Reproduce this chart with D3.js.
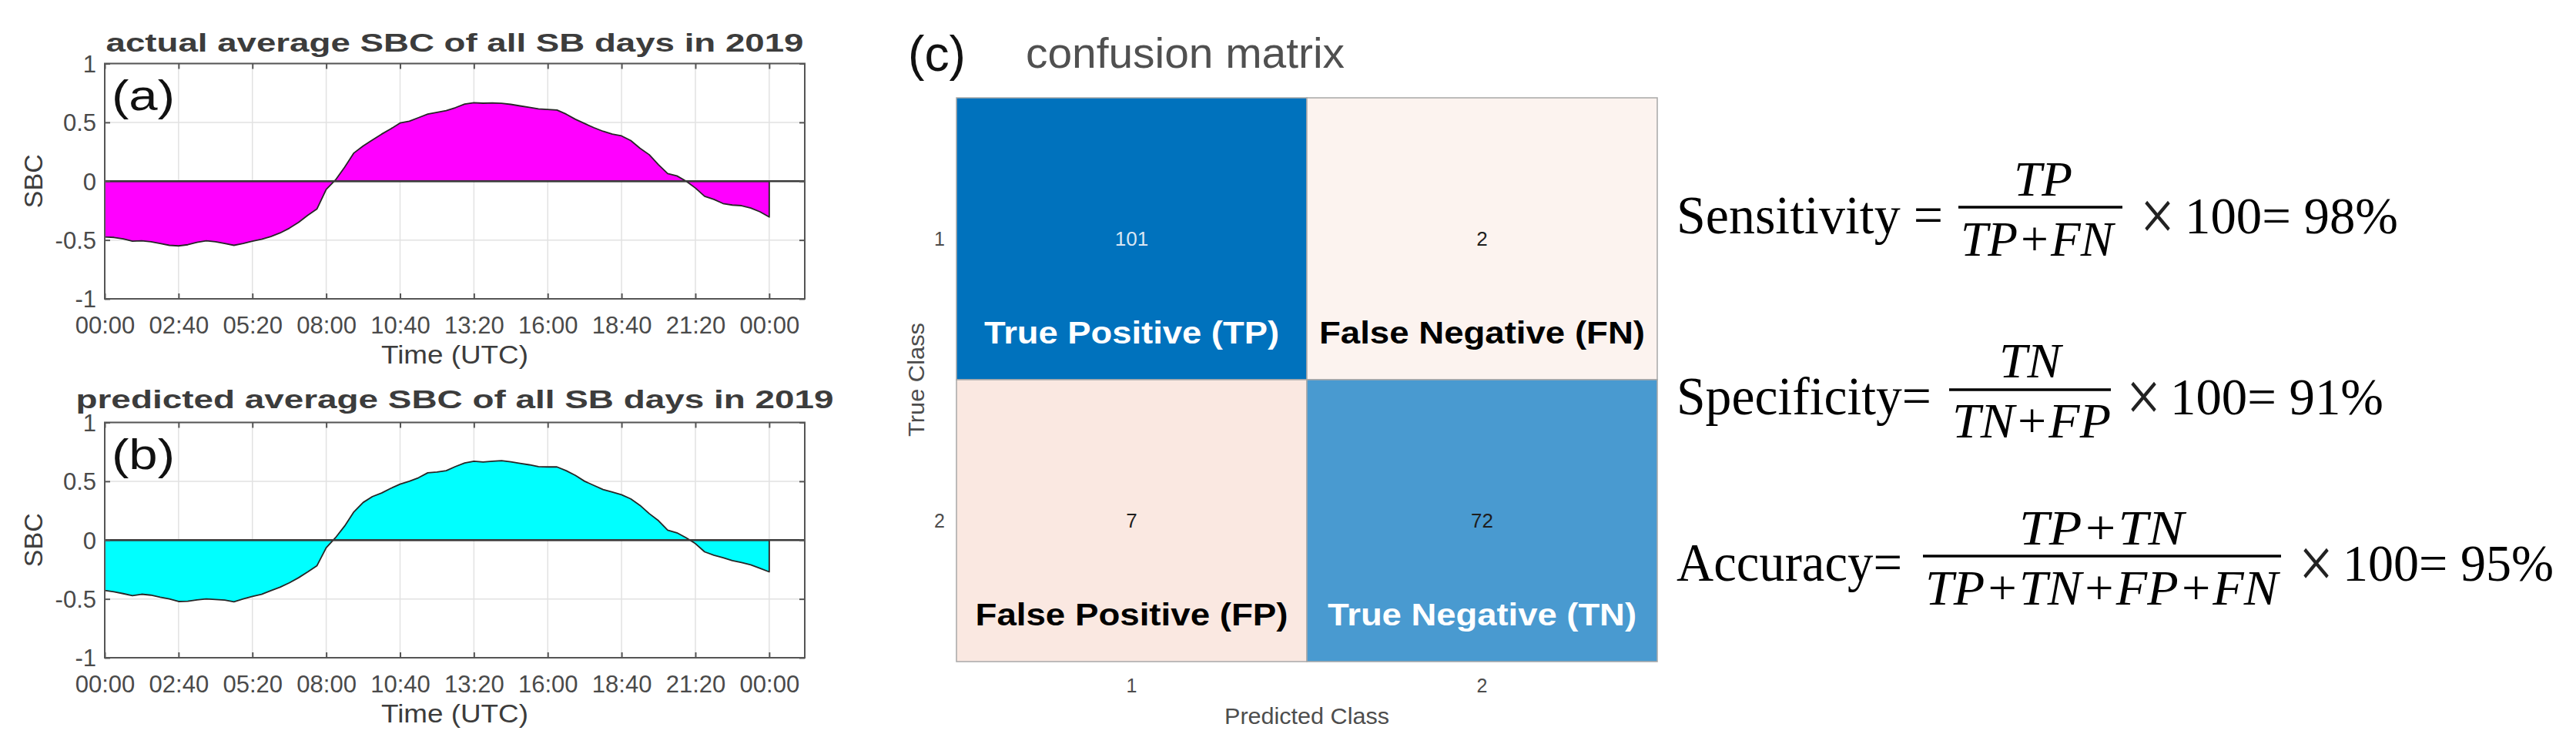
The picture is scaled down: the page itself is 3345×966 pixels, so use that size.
<!DOCTYPE html>
<html><head><meta charset="utf-8">
<script src="https://cdn.jsdelivr.net/npm/d3@7"></script>
<style>body{margin:0;background:#fff} svg{display:block}</style>
</head><body>
<svg id="c" width="3345" height="966"></svg>
<script>
// ---------------- data ----------------
const timeMin = [0,20,40,60,80,100,120,140,160,180,200,220,240,260,280,300,320,340,360,380,400,420,440,460,480,500,520,540,560,580,600,620,640,660,680,700,720,740,760,780,800,820,840,860,880,900,920,940,960,980,1000,1020,1040,1060,1080,1100,1120,1140,1160,1180,1200,1220,1240,1260,1280,1300,1320,1340,1360,1380,1400,1420,1440];
const sbcActual = [-0.474,-0.478,-0.49,-0.51,-0.507,-0.515,-0.53,-0.545,-0.55,-0.54,-0.52,-0.507,-0.515,-0.53,-0.545,-0.53,-0.51,-0.493,-0.47,-0.44,-0.40,-0.35,-0.29,-0.235,-0.07,0.01,0.12,0.24,0.30,0.35,0.40,0.445,0.495,0.51,0.54,0.57,0.585,0.60,0.625,0.655,0.667,0.663,0.665,0.662,0.653,0.64,0.627,0.614,0.609,0.605,0.57,0.526,0.49,0.455,0.424,0.40,0.385,0.345,0.28,0.225,0.14,0.065,0.045,0.0,-0.058,-0.128,-0.155,-0.19,-0.203,-0.208,-0.228,-0.26,-0.304];
const sbcPredicted = [-0.428,-0.44,-0.455,-0.472,-0.46,-0.468,-0.485,-0.50,-0.522,-0.52,-0.508,-0.50,-0.505,-0.51,-0.524,-0.50,-0.478,-0.461,-0.43,-0.40,-0.363,-0.32,-0.27,-0.217,-0.065,0.02,0.12,0.24,0.32,0.37,0.40,0.44,0.475,0.50,0.53,0.572,0.578,0.59,0.625,0.655,0.67,0.664,0.67,0.675,0.665,0.652,0.64,0.624,0.622,0.622,0.59,0.55,0.50,0.465,0.43,0.408,0.385,0.35,0.295,0.225,0.165,0.085,0.062,0.02,-0.03,-0.10,-0.128,-0.15,-0.175,-0.19,-0.21,-0.24,-0.27];
const xTickMin = [0,160,320,480,640,800,960,1120,1280,1440];
const xTickLabels = ["00:00","02:40","05:20","08:00","10:40","13:20","16:00","18:40","21:20","00:00"];
const yTicks = [-1,-0.5,0,0.5,1];
const yTickLabels = ["-1","-0.5","0","0.5","1"];
const classLabels = ["1","2"];
const confCounts = [[101,2],[7,72]];
const cellNames = [["True Positive (TP)","False Negative (FN)"],["False Positive (FP)","True Negative (TN)"]];

// ---------------- helpers ----------------
const svg = d3.select("#c");
const SANS = "'Liberation Sans', Arial, Helvetica, sans-serif";
const SERIF = "'Liberation Serif', 'Times New Roman', serif";

function txt(g, s, o) {
  const t = g.append("text").text(s)
    .attr("x", o.x).attr("y", o.y)
    .attr("font-family", o.family || SANS)
    .attr("font-size", o.size)
    .attr("fill", o.fill || "#000")
    .attr("text-anchor", o.anchor || "start");
  if (o.weight) t.attr("font-weight", o.weight);
  if (o.style) t.attr("font-style", o.style);
  if (o.len) t.attr("textLength", o.len).attr("lengthAdjust", "spacingAndGlyphs");
  if (o.rotate) t.attr("transform", `rotate(${o.rotate},${o.x},${o.y})`);
  return t;
}

// ---------------- line/area panels ----------------
function linePanel(top, values, fill, title, titleLen, tag, titleDy) {
  const g = svg.append("g");
  const x = d3.scaleLinear().domain([0, 1517]).range([136, 1045]);
  const y = d3.scaleLinear().domain([-1, 1]).range([top + 305.5, top]);
  const left = x.range()[0], right = x.range()[1];

  // grid
  g.append("g").selectAll("line").data(xTickMin).join("line")
    .attr("x1", d => x(d)).attr("x2", d => x(d))
    .attr("y1", y(-1)).attr("y2", y(1))
    .attr("stroke", "#e2e2e2").attr("stroke-width", 1.5);
  g.append("g").selectAll("line").data(yTicks).join("line")
    .attr("x1", left).attr("x2", right)
    .attr("y1", d => y(d)).attr("y2", d => y(d))
    .attr("stroke", "#e2e2e2").attr("stroke-width", 1.5);

  // area
  const area = d3.area()
    .x((d, i) => x(timeMin[i]))
    .y0(y(0)).y1(d => y(d));
  g.append("path").datum(values).attr("d", area)
    .attr("fill", fill).attr("stroke", "#262626")
    .attr("stroke-width", 1.8).attr("stroke-linejoin", "round");

  // baseline
  g.append("line").attr("x1", left).attr("x2", right)
    .attr("y1", y(0)).attr("y2", y(0))
    .attr("stroke", "#3a3a3a").attr("stroke-width", 2.6);

  // axes (inward ticks)
  const styleAxis = sel => {
    sel.select(".domain").remove();
    sel.selectAll(".tick line").attr("stroke", "#555").attr("stroke-width", 2);
    sel.selectAll("text").attr("font-family", SANS).attr("font-size", 31).attr("fill", "#4a4a4a");
  };
  g.append("g").attr("transform", `translate(0,${y(-1)})`)
    .call(d3.axisBottom(x).tickValues(xTickMin).tickFormat((d, i) => xTickLabels[i]).tickSizeInner(-7).tickSizeOuter(0))
    .call(styleAxis)
    .call(s => s.selectAll("text").attr("y", 45).attr("dy", null));
  g.append("g").attr("transform", `translate(0,${y(1)})`)
    .call(d3.axisTop(x).tickValues(xTickMin).tickFormat("").tickSizeInner(-7).tickSizeOuter(0))
    .call(styleAxis);
  g.append("g").attr("transform", `translate(${left},0)`)
    .call(d3.axisLeft(y).tickValues(yTicks).tickFormat((d, i) => yTickLabels[i]).tickSizeInner(-7).tickSizeOuter(0))
    .call(styleAxis)
    .call(s => s.selectAll("text").attr("x", -11).attr("y", 0).attr("dy", "0.35em"));
  g.append("g").attr("transform", `translate(${right},0)`)
    .call(d3.axisRight(y).tickValues(yTicks).tickFormat("").tickSizeInner(-7).tickSizeOuter(0))
    .call(styleAxis);

  // box
  g.append("rect").attr("x", left).attr("y", y(1))
    .attr("width", right - left).attr("height", y(-1) - y(1))
    .attr("fill", "none").attr("stroke", "#555").attr("stroke-width", 2);

  // texts
  const cx = (left + right) / 2;
  txt(g, title, {x: cx, y: top + titleDy, size: 33, weight: "bold", fill: "#3c3c3c", anchor: "middle", len: titleLen});
  txt(g, tag, {x: 145, y: top + 60, size: 56, fill: "#111", len: 82});
  txt(g, "Time (UTC)", {x: cx, y: top + 389, size: 34, fill: "#3c3c3c", anchor: "middle", len: 191});
  txt(g, "SBC", {x: 55, y: y(0), size: 34, fill: "#3c3c3c", anchor: "middle", rotate: -90});
}

linePanel(82.5, sbcActual, "#ff00ff", "actual average SBC of all SB days in 2019", 906, "(a)", -15.5);
linePanel(548.5, sbcPredicted, "#00ffff", "predicted average SBC of all SB days in 2019", 984, "(b)", -18.5);

// ---------------- confusion matrix ----------------
{
  const g = svg.append("g");
  const xb = d3.scaleBand().domain(classLabels).range([1242, 2152]);
  const yb = d3.scaleBand().domain(classLabels).range([127, 859]);
  const maxCount = d3.max(confCounts.flat());
  const diagColor = d3.scaleLinear().domain([0, maxCount]).range(["#ffffff", "#0072bd"]);
  const offT = d3.scaleSqrt().domain([0, maxCount]).range([0, 0.5]);
  const offColor = v => d3.interpolateRgb("#ffffff", "#d95319")(offT(v));

  const cells = [];
  confCounts.forEach((row, i) => row.forEach((v, j) => cells.push({i, j, v})));

  g.selectAll("rect.cell").data(cells).join("rect").attr("class", "cell")
    .attr("x", d => xb(classLabels[d.j])).attr("y", d => yb(classLabels[d.i]))
    .attr("width", xb.bandwidth()).attr("height", yb.bandwidth())
    .attr("fill", d => d.i === d.j ? diagColor(d.v) : offColor(d.v))
    .attr("stroke", "#a8a8a8").attr("stroke-width", 1.5);

  g.selectAll("text.count").data(cells).join("text").attr("class", "count")
    .attr("x", d => xb(classLabels[d.j]) + xb.bandwidth() / 2)
    .attr("y", d => yb(classLabels[d.i]) + yb.bandwidth() / 2 + 9)
    .attr("text-anchor", "middle").attr("font-family", SANS).attr("font-size", 26)
    .attr("fill", d => (d.i === d.j && d.v / maxCount > 0.85) ? "#dbe7f3" : "#1e1e1e")
    .text(d => d.v);

  g.selectAll("text.name").data(cells).join("text").attr("class", "name")
    .attr("x", d => xb(classLabels[d.j]) + xb.bandwidth() / 2)
    .attr("y", d => yb(classLabels[d.i]) + 319)
    .attr("text-anchor", "middle").attr("font-family", SANS).attr("font-size", 41)
    .attr("font-weight", "bold")
    .attr("fill", d => d.i === d.j ? "#ffffff" : "#000000")
    .attr("textLength", d => [[383, 423], [406, 401]][d.i][d.j]).attr("lengthAdjust", "spacingAndGlyphs")
    .text(d => cellNames[d.i][d.j]);

  // tick labels
  g.append("g").attr("transform", `translate(0,${yb.range()[1]})`)
    .call(d3.axisBottom(xb).tickSize(0).tickPadding(0))
    .call(s => { s.select(".domain").remove(); s.selectAll("text").attr("y", 40).attr("dy", null).attr("font-family", SANS).attr("font-size", 25).attr("fill", "#4d4d4d"); });
  g.append("g").attr("transform", `translate(${xb.range()[0]},0)`)
    .call(d3.axisLeft(yb).tickSize(0).tickPadding(0))
    .call(s => { s.select(".domain").remove(); s.selectAll("text").attr("x", -15).attr("dy", "0.35em").attr("font-family", SANS).attr("font-size", 25).attr("fill", "#4d4d4d"); });

  txt(g, "Predicted Class", {x: 1697, y: 940, size: 30, fill: "#4d4d4d", anchor: "middle", len: 214});
  txt(g, "True Class", {x: 1200, y: 493, size: 30, fill: "#4d4d4d", anchor: "middle", rotate: -90, len: 148});
  txt(g, "(c)", {x: 1179, y: 92, size: 64, fill: "#111", len: 75});
  txt(g, "confusion matrix", {x: 1332, y: 88, size: 55, fill: "#505050", len: 414});
}

// ---------------- metric formulas ----------------
{
  const g = svg.append("g");
  const TP = confCounts[0][0], FN = confCounts[0][1], FP = confCounts[1][0], TN = confCounts[1][1];
  const pct = v => Math.round(v * 100) + "%";
  const metrics = [
    {name: "Sensitivity =", nx: [2177, 346], base: 303, bar: [2543, 2756, 269], num: ["TP", 2653, 254, 76], den: ["TP+FN", 2645, 332, 198], val: TP / (TP + FN), times: 2779, tail: [2837, 277]},
    {name: "Specificity=", nx: [2177, 331], base: 538, bar: [2531, 2741, 506], num: ["TN", 2636, 490, 80], den: ["TN+FP", 2638, 568, 206], val: TN / (TN + FP), times: 2761, tail: [2818, 277]},
    {name: "Accuracy=", nx: [2177, 293], base: 754, bar: [2497, 2962, 722], num: ["TP+TN", 2729, 707, 214], den: ["TP+TN+FP+FN", 2729, 785, 458], val: (TP + TN) / (TP + TN + FP + FN), times: 2985, tail: [3042, 274]}
  ];
  metrics.forEach(m => {
    txt(g, m.name, {x: m.nx[0], y: m.base, size: 70, family: SERIF, len: m.nx[1]});
    g.append("line").attr("x1", m.bar[0]).attr("x2", m.bar[1]).attr("y1", m.bar[2]).attr("y2", m.bar[2])
      .attr("stroke", "#000").attr("stroke-width", 3.5);
    txt(g, m.num[0], {x: m.num[1], y: m.num[2], size: 64, family: SERIF, style: "italic", anchor: "middle", len: m.num[3]});
    txt(g, m.den[0], {x: m.den[1], y: m.den[2], size: 64, family: SERIF, style: "italic", anchor: "middle", len: m.den[3]});
    txt(g, "\u00d7", {x: m.times, y: m.base + 9, size: 96, family: SERIF, len: 45, fill: "#222"});
    txt(g, "100= " + pct(m.val), {x: m.tail[0], y: m.base, size: 68, family: SERIF, len: m.tail[1]});
  });
}
</script>
</body></html>
